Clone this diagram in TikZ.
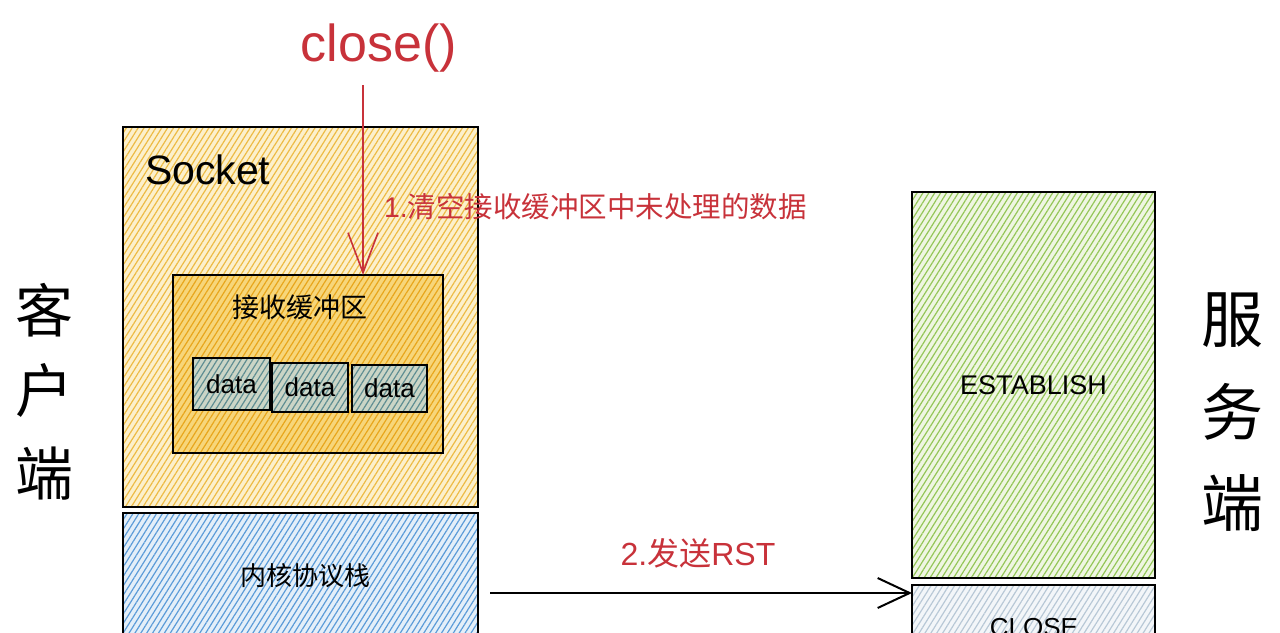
\documentclass[tikz,border=0pt]{standalone}
\usepackage{fontspec}
\setmainfont{Liberation Sans}
\newfontfamily\cjk{Noto Sans CJK SC}
\usetikzlibrary{patterns.meta,arrows.meta}
\definecolor{redtxt}{HTML}{C8323A}
\definecolor{sockfill}{HTML}{FCF0CC}
\definecolor{sockhatch}{HTML}{EDBB45}
\definecolor{buffill}{HTML}{F7D67A}
\definecolor{bufhatch}{HTML}{E8A61C}
\definecolor{datafill}{HTML}{CBD5C6}
\definecolor{datahatch}{HTML}{5F8E92}
\definecolor{kernfill}{HTML}{E4EFF9}
\definecolor{kernhatch}{HTML}{5C9CD8}
\definecolor{estfill}{HTML}{EFF6E2}
\definecolor{esthatch}{HTML}{94C658}
\definecolor{closefill}{HTML}{F3F6F9}
\definecolor{closehatch}{HTML}{B8C8D6}
\tikzset{
  hbox/.style={draw=black, line width=1.8pt, inner sep=0pt, outer sep=0pt},
  hatch/.style 2 args={preaction={fill=#1},
    pattern={Lines[angle=58,distance=5pt,line width=1.2pt]}, pattern color=#2},
  plain/.style={inner sep=0pt, outer sep=0pt},
  redlbl/.style={plain, text=redtxt},
}
\begin{document}
\begin{tikzpicture}[x=1pt,y=-1pt]
\useasboundingbox (0,0) rectangle (1280,632);
\clip (0,0) rectangle (1280,632);
\fill[white] (0,0) rectangle (1280,632);

% client side
\node[hbox, hatch={sockfill}{sockhatch}, minimum width=355pt, minimum height=380pt] (sock) at (300.5,317) {};
\node[plain, anchor=west, font=\fontsize{41}{41}\selectfont] (socklbl) at (145,170) {Socket};
\node[hbox, hatch={buffill}{bufhatch}, minimum width=270pt, minimum height=178pt] (buf) at (308,364) {};
\node[plain, font=\cjk\fontsize{27}{27}\selectfont] (buflbl) at (300,307) {接收缓冲区};
\node[hbox, hatch={datafill}{datahatch}, minimum width=77pt, minimum height=52pt, font=\fontsize{26}{26}\selectfont] (d1) at (231.5,384) {data};
\node[hbox, hatch={datafill}{datahatch}, minimum width=76pt, minimum height=49pt, font=\fontsize{26}{26}\selectfont] (d2) at (310,387.5) {data};
\node[hbox, hatch={datafill}{datahatch}, minimum width=75pt, minimum height=47pt, font=\fontsize{26}{26}\selectfont] (d3) at (389.5,388.5) {data};
\node[hbox, hatch={kernfill}{kernhatch}, minimum width=355pt, minimum height=190pt] (kern) at (300.5,608) {};
\node[plain, font=\cjk\fontsize{26}{26}\selectfont] (kernlbl) at (305,576) {内核协议栈};

% server side
\node[hbox, hatch={estfill}{esthatch}, minimum width=243pt, minimum height=386pt, font=\fontsize{27}{27}\selectfont] (est) at (1033.5,385) {ESTABLISH};
\node[hbox, hatch={closefill}{closehatch}, minimum width=243pt, minimum height=120pt] (cls) at (1033.5,645) {};
\node[plain, font=\fontsize{26}{26}\selectfont] (clslbl) at (1034,628) {CLOSE};

% side titles
\node[plain, font=\cjk\fontsize{58}{58}\selectfont] (client) at (44,310) {客};
\node[plain, font=\cjk\fontsize{58}{58}\selectfont] (client2) at (44,390) {户};
\node[plain, font=\cjk\fontsize{58}{58}\selectfont] (client3) at (44,474) {端};
\node[plain, font=\cjk\fontsize{62}{62}\selectfont] (server) at (1232,320) {服};
\node[plain, font=\cjk\fontsize{62}{62}\selectfont] (server2) at (1232,412) {务};
\node[plain, font=\cjk\fontsize{62}{62}\selectfont] (server3) at (1232,503) {端};

% close() call
\node[redlbl, font=\fontsize{52}{52}\selectfont] (closefn) at (379,48) {close()};
\coordinate (callstart) at (363,85);
\draw[redtxt, line width=1.6pt, -{Straight Barb[length=40pt,width=30pt,line width=1.6pt]}] (callstart) -- (callstart |- buf.north);
\node[redlbl, anchor=west, font=\fontsize{28.5}{28.5}\selectfont] (step1) at (384,207) {1.{\cjk 清空接收缓冲区中未处理的数据}};

% RST
\coordinate (rststart) at (490,593);
\draw[black, line width=2.4pt, -{Straight Barb[length=32pt,width=30pt,line width=2pt]}] (rststart) -- (rststart -| cls.west);
\node[redlbl, font=\fontsize{32}{32}\selectfont] (step2) at (698,553) {2.{\cjk 发送}RST};
\end{tikzpicture}
\end{document}
